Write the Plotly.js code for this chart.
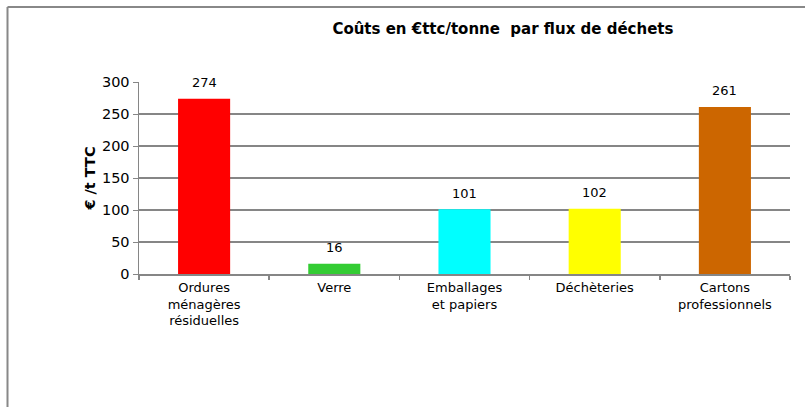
<!DOCTYPE html>
<html>
<head>
<meta charset="utf-8">
<script src="https://cdn.plot.ly/plotly-3.0.1.min.js"></script>
<style>html,body{margin:0;padding:0;background:#fff;overflow:hidden;}</style>
</head>
<body>
<div id="chart" style="width:806px;height:408px;"></div>
<script>
var categories = ["Ordures<br>ménagères<br>résiduelles", "Verre", "Emballages<br>et papiers", "Déchèteries", "Cartons<br>professionnels"];
var values = [274, 16, 101, 102, 261];
var barColors = ["#FF0000", "#33CC33", "#00FFFF", "#FFFF00", "#CC6600"];
var yTicks = [0, 50, 100, 150, 200, 250, 300];

var fontFam = "DejaVu Sans, sans-serif";

var trace = {
  type: "bar",
  x: categories,
  y: values,
  marker: {color: barColors},
  width: 0.4,
  hoverinfo: "x+y"
};

var labelAnnotations = categories.map(function (c, i) {
  return {
    x: c, y: values[i], xref: "x", yref: "y",
    text: String(values[i]),
    showarrow: false,
    yanchor: "middle",
    yshift: 16,
    font: {family: fontFam, size: 13, color: "#000"}
  };
});

var layout = {
  width: 806,
  height: 408,
  margin: {l: 139, r: 16, t: 82, b: 134},
  paper_bgcolor: "#fff",
  plot_bgcolor: "#fff",
  showlegend: false,
  font: {family: fontFam, size: 13, color: "#000"},
  title: {
    text: "<b>Coûts en €ttc/tonne \u00A0par flux de déchets</b>",
    font: {family: fontFam, size: 15, color: "#000"},
    x: 0.559, xref: "paper", xanchor: "center",
    y: 1 - 29 / 408, yref: "container", yanchor: "middle"
  },
  xaxis: {
    type: "category",
    showgrid: false,
    showline: true,
    linecolor: "#868686",
    linewidth: 2,
    ticks: "outside",
    tickson: "boundaries",
    ticklen: 4,
    tickcolor: "#868686",
    tickwidth: 1.5,
    tickfont: {family: fontFam, size: 13, color: "#000"},
    fixedrange: true
  },
  yaxis: {
    range: [0, 300],
    tickvals: yTicks,
    ticktext: yTicks.map(String),
    showgrid: true,
    gridcolor: "#868686",
    gridwidth: 1.5,
    zeroline: false,
    showline: true,
    linecolor: "#868686",
    linewidth: 1.5,
    ticks: "outside",
    ticklen: 5,
    tickcolor: "#868686",
    tickfont: {family: fontFam, size: 14.5, color: "#000"},
    title: {
      text: "<b>€ /t TTC</b>",
      font: {family: fontFam, size: 14.5, color: "#000"},
      standoff: 3
    },
    automargin: false,
    fixedrange: true
  },
  annotations: labelAnnotations,
  shapes: [
    {type: "line", xref: "paper", yref: "paper",
     x0: (7.5 - 139) / 651, x1: (805 - 139) / 651,
     y0: (274 - 7) / 192, y1: (274 - 7) / 192,
     line: {color: "#888888", width: 2}},
    {type: "line", xref: "paper", yref: "paper",
     x0: (7.5 - 139) / 651, x1: (7.5 - 139) / 651,
     y0: (274 - 7) / 192, y1: (274 - 407) / 192,
     line: {color: "#888888", width: 2}}
  ]
};

Plotly.newPlot("chart", [trace], layout, {displayModeBar: false, staticPlot: true});
</script>
</body>
</html>
